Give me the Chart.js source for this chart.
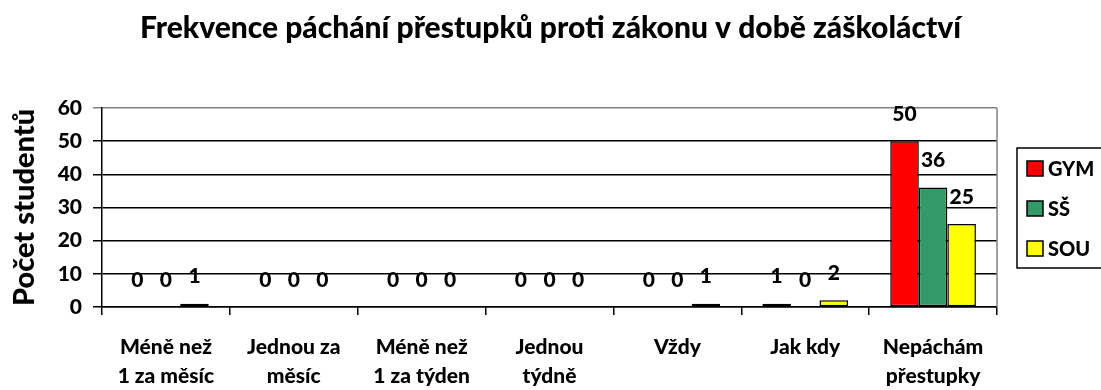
<!DOCTYPE html>
<html lang="cs">
<head>
<meta charset="utf-8">
<title>Frekvence páchání přestupků</title>
<script src="https://cdn.jsdelivr.net/npm/chart.js@4"></script>
<style>
    html, body { margin: 0; padding: 0; background: #fff; }
    #wrap { width: 1101px; height: 390px; position: relative; overflow: hidden; }
</style>
</head>
<body>
<div id="wrap"><canvas id="prestupkyChart"></canvas></div>
<script>
    const chartTitle = 'Frekvence páchání přestupků proti zákonu v době záškoláctví';
    const categories = [
        ['Méně než', '1 za měsíc'],
        ['Jednou za', 'měsíc'],
        ['Méně než', '1 za týden'],
        ['Jednou', 'týdně'],
        ['Vždy'],
        ['Jak kdy'],
        ['Nepáchám', 'přestupky']
    ];
    const seriesNames = ['GYM', 'SŠ', 'SOU'];
    const gymValues = [0, 0, 0, 0, 0, 1, 50];
    const ssValues = [0, 0, 0, 0, 0, 0, 36];
    const souValues = [1, 0, 0, 0, 1, 2, 25];
    const yTicks = [0, 10, 20, 30, 40, 50, 60];

    const seriesColors = ['#ff0000', '#339966', '#ffff00'];
    const FONT = 'Lato';
    const W = 900;

    Chart.defaults.font.family = FONT;
    Chart.defaults.font.weight = W;
    Chart.defaults.color = '#000';

    // nadpis přes celou šířku plátna
    const titleBar = {
        id: 'titleBar',
        afterDraw(chart) {
            const ctx = chart.ctx;
            ctx.save();
            ctx.font = `${W} 30px ${FONT}`;
            ctx.fillStyle = '#000';
            ctx.textAlign = 'center';
            ctx.textBaseline = 'middle';
            ctx.fillText(chartTitle, chart.width / 2, 28);
            ctx.restore();
        }
    };

    // hodnoty nad sloupci
    const valueLabels = {
        id: 'valueLabels',
        afterDatasetsDraw(chart) {
            const ctx = chart.ctx;
            ctx.save();
            ctx.font = `${W} 21px ${FONT}`;
            ctx.fillStyle = '#000';
            ctx.textAlign = 'center';
            ctx.textBaseline = 'middle';
            chart.data.datasets.forEach((ds, i) => {
                chart.getDatasetMeta(i).data.forEach((bar, j) => {
                    ctx.fillText(String(ds.data[j]), bar.x, bar.y - 27);
                });
            });
            ctx.restore();
        }
    };

    // šedý rámeček vpravo + vlastní legenda
    const frameAndLegend = {
        id: 'frameAndLegend',
        beforeDatasetsDraw(chart) {
            const a = chart.chartArea;
            const ctx = chart.ctx;
            ctx.save();
            ctx.strokeStyle = '#808080';
            ctx.lineWidth = 1.5;
            ctx.beginPath();
            ctx.moveTo(a.right, a.top);
            ctx.lineTo(a.right, a.bottom);
            ctx.stroke();
            ctx.restore();
        },
        afterDraw(chart) {
            const ctx = chart.ctx;
            const left = 1017, top = 148, height = 120;
            ctx.save();
            ctx.fillStyle = '#fff';
            ctx.fillRect(left, top, 200, height);
            ctx.strokeStyle = '#000';
            ctx.lineWidth = 1.5;
            ctx.strokeRect(left, top, 200, height);
            ctx.font = `${W} 20px ${FONT}`;
            ctx.textAlign = 'left';
            ctx.textBaseline = 'middle';
            chart.data.datasets.forEach((ds, i) => {
                const cy = 168.5 + i * 40;
                ctx.fillStyle = ds.backgroundColor;
                ctx.fillRect(left + 10, cy - 7.5, 16, 15);
                ctx.strokeStyle = '#000';
                ctx.strokeRect(left + 10, cy - 7.5, 16, 15);
                ctx.fillStyle = '#000';
                ctx.fillText(ds.label, left + 31, cy + 1);
            });
            ctx.restore();
        }
    };

    const datasetValues = [gymValues, ssValues, souValues];

    new Chart(document.getElementById('prestupkyChart'), {
        type: 'bar',
        data: {
            labels: categories,
            datasets: seriesNames.map((name, i) => ({
                label: name,
                data: datasetValues[i],
                backgroundColor: seriesColors[i],
                borderColor: '#000',
                borderWidth: 1.5,
                borderSkipped: false,
                barPercentage: 1,
                categoryPercentage: 0.67
            }))
        },
        options: {
            responsive: true,
            maintainAspectRatio: false,
            animation: false,
            layout: {
                padding: { left: 0, right: 104, top: 108, bottom: 0 }
            },
            plugins: {
                legend: { display: false },
                tooltip: { enabled: false },
                title: { display: false }
            },
            scales: {
                x: {
                    afterFit(scale) { scale.height = 83; },
                    grid: {
                        display: true,
                        drawOnChartArea: false,
                        drawTicks: true,
                        tickLength: 8,
                        color: '#000',
                        lineWidth: 1.5
                    },
                    border: { display: true, color: '#000', width: 1.5 },
                    ticks: {
                        font: { size: 21, weight: W, lineHeight: 1.42 },
                        color: '#000',
                        padding: 17,
                        maxRotation: 0,
                        autoSkip: false
                    }
                },
                y: {
                    min: 0,
                    max: 60,
                    afterFit(scale) { scale.width = 102; },
                    afterBuildTicks(scale) {
                        scale.ticks = yTicks.map(v => ({ value: v }));
                    },
                    grid: {
                        color: ctx => (ctx.tick && ctx.tick.value === 60) ? '#808080' : '#000',
                        lineWidth: 1.5,
                        drawTicks: true,
                        tickLength: 9
                    },
                    border: { display: true, color: '#000', width: 1.5 },
                    ticks: {
                        font: { size: 21, weight: W },
                        color: '#000',
                        padding: 11
                    },
                    title: {
                        display: true,
                        text: 'Počet studentů',
                        color: '#000',
                        font: { size: 29, weight: W, lineHeight: 1.2 },
                        padding: { top: 7, bottom: 0 }
                    }
                }
            }
        },
        plugins: [valueLabels, frameAndLegend, titleBar]
    });
</script>
</body>
</html>
